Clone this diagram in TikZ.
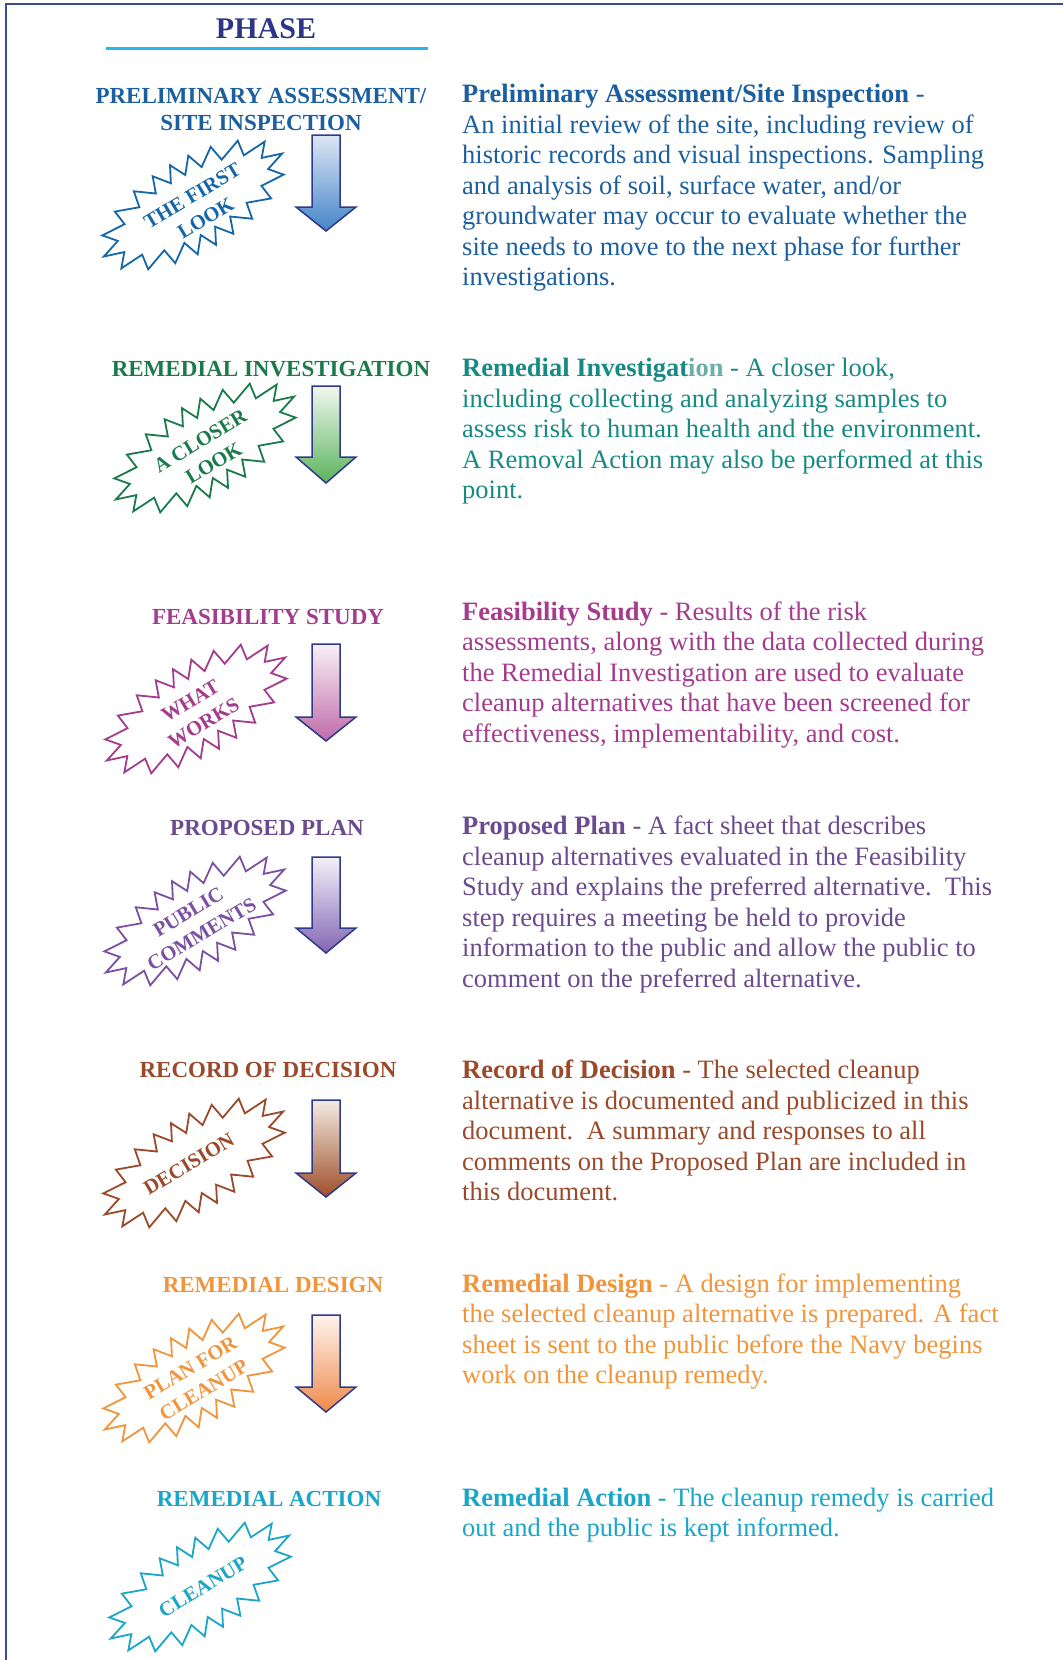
\documentclass[tikz,border=0pt]{standalone}
\usepackage{fontspec}
\setmainfont{Liberation Serif}
\definecolor{frame}{HTML}{3B4A9B}
\definecolor{phase}{HTML}{2E3586}
\definecolor{cyanline}{HTML}{29B6EA}
\definecolor{arrowedge}{HTML}{2E3A8C}
\definecolor{cA}{HTML}{1B5FA0}
\definecolor{cAs}{HTML}{1566A8}
\definecolor{cB}{HTML}{1B7A4C}
\definecolor{cBt}{HTML}{178A84}
\definecolor{cBl}{HTML}{6AAFA9}
\definecolor{cC}{HTML}{A43C8E}
\definecolor{cD}{HTML}{6B4A8F}
\definecolor{cDs}{HTML}{7B50A2}
\definecolor{cE}{HTML}{9A4A2A}
\definecolor{cF}{HTML}{F0953C}
\definecolor{cG}{HTML}{1AA6C8}
\definecolor{aAt}{HTML}{DDE6F5}\definecolor{aAb}{HTML}{4585C8}
\definecolor{aBt}{HTML}{F1F8EF}\definecolor{aBb}{HTML}{5CB35E}
\definecolor{aCt}{HTML}{FAF0F7}\definecolor{aCb}{HTML}{BF6BA8}
\definecolor{aDt}{HTML}{F3F1F9}\definecolor{aDb}{HTML}{8366B4}
\definecolor{aEt}{HTML}{F5EBE3}\definecolor{aEb}{HTML}{9E4F2A}
\definecolor{aFt}{HTML}{FEF4EE}\definecolor{aFb}{HTML}{EF8A4A}
\tikzset{
  heading/.style={font=\fontsize{23}{27}\selectfont\bfseries, anchor=base, inner sep=0pt},
  desc/.style={font=\fontsize{26.5}{30.5}\selectfont, anchor=base west, inner sep=0pt},
  bursttext/.style={font=\fontsize{20.5}{26}\selectfont\bfseries, align=center, rotate=31, inner sep=0pt},
  burstline/.style={line width=1.8pt, line join=miter},
  phasearrow/.style={draw=arrowedge, line width=1.5pt, line join=miter}
}
\newcommand{\burst}[3]{%
  \begin{scope}[shift={(#1,#2)},rotate=30]
    \draw[burstline,#3] plot[variable=\u, samples=41, domain=0:360]
      ({(mod(round(\u/9),2)==0 ? 103 : 85)*cos(\u+11*sin(2*\u))},
       {(mod(round(\u/9),2)==0 ? 46 : 30)*sin(\u+11*sin(2*\u))}) -- cycle;
  \end{scope}}
\newcommand{\phasearrow}[5]{%
  \draw[phasearrow, top color=#4, bottom color=#5]
    (312,#1) -- (340,#1) -- (340,#2) -- (356,#2) -- (326,#3) -- (296,#2) -- (312,#2) -- cycle;}
\newcommand{\desc}[4]{%
  \foreach \l [count=\k] in {#4}
    \node[desc,#2] (#1-\k) at (462,{#3+(\k-1)*30.5}) {\l};}
\begin{document}
\begin{tikzpicture}[x=1pt,y=-1pt]
\useasboundingbox (0,0) rectangle (1063,1660);
% frame
\draw[frame, line width=2.5pt] (6,1660) -- (6,4) -- (1063,4);
% title
\node[font=\fontsize{30}{36}\selectfont\bfseries, text=phase, anchor=base, inner sep=0pt] (phase) at (266,38) {PHASE};
\draw[cyanline, line width=3pt] (106,48) -- (428,48);

% ---------- Row 1
\node[heading, text=cA] (h1a) at (261,103) {PRELIMINARY ASSESSMENT/};
\node[heading, text=cA] (h1b) at (261,130) {SITE INSPECTION};
\burst{193}{205}{cAs}
\node[bursttext, text=cAs] (s1) at (199,207) {THE FIRST\\LOOK};
\phasearrow{135}{207}{231}{aAt}{aAb}
\desc{t1}{text=cA}{102.5}{{\textbf{Preliminary Assessment/Site Inspection} -},{An initial review of the site, including review of},{historic records and visual inspections. Sampling},{and analysis of soil, surface water, and/or},{groundwater may occur to evaluate whether the},{site needs to move to the next phase for further},{investigations.}}

% ---------- Row 2
\node[heading, text=cB] (h2) at (271,376) {REMEDIAL INVESTIGATION};
\burst{205}{448}{cB}
\node[bursttext, text=cB] (s2) at (207,452) {A CLOSER\\LOOK};
\phasearrow{386}{457}{483}{aBt}{aBb}
\desc{t2}{text=cBt}{376.5}{{\textbf{Remedial Investigat{\color{cBl}ion}} - A closer look,},{including collecting and analyzing samples to},{assess risk to human health and the environment.},{A Removal Action may also be performed at this},{point.}}

% ---------- Row 3
\node[heading, text=cC] (h3) at (268,624) {FEASIBILITY STUDY};
\burst{196}{709}{cC}
\node[bursttext, text=cC] (s3) at (197,712) {WHAT\\WORKS};
\phasearrow{644}{717}{741}{aCt}{aCb}
\desc{t3}{text=cC}{620}{{\textbf{Feasibility Study} - Results of the risk},{assessments, along with the data collected during},{the Remedial Investigation are used to evaluate},{cleanup alternatives that have been screened for},{effectiveness, implementability, and cost.}}

% ---------- Row 4
\node[heading, text=cD] (h4) at (267,835) {PROPOSED PLAN};
\burst{195}{921}{cDs}
\node[bursttext, text=cDs] (s4) at (195,923) {PUBLIC\\COMMENTS};
\phasearrow{857}{928}{953}{aDt}{aDb}
\desc{t4}{text=cD}{834.5}{{\textbf{Proposed Plan} - A fact sheet that describes},{cleanup alternatives evaluated in the Feasibility},{Study and explains the preferred alternative.\ \ This},{step requires a meeting be held to provide},{information to the public and allow the public to},{comment on the preferred alternative.}}

% ---------- Row 5
\node[heading, text=cE] (h5) at (268,1077) {RECORD OF DECISION};
\burst{194}{1163}{cE}
\node[bursttext, text=cE] (s5) at (189,1164) {DECISION};
\phasearrow{1100}{1173}{1197}{aEt}{aEb}
\desc{t5}{text=cE}{1078.5}{{\textbf{Record of Decision} - The selected cleanup},{alternative is documented and publicized in this},{document.\ \ A summary and responses to all},{comments on the Proposed Plan are included in},{this document.}}

% ---------- Row 6
\node[heading, text=cF] (h6) at (273,1292) {REMEDIAL DESIGN};
\burst{194}{1378}{cF}
\node[bursttext, text=cF] (s6) at (197,1379) {PLAN FOR\\CLEANUP};
\phasearrow{1315}{1387}{1412}{aFt}{aFb}
\desc{t6}{text=cF}{1292}{{\textbf{Remedial Design} - A design for implementing},{the selected cleanup alternative is prepared. A fact},{sheet is sent to the public before the Navy begins},{work on the cleanup remedy.}}

% ---------- Row 7
\node[heading, text=cG] (h7) at (269,1506) {REMEDIAL ACTION};
\burst{200}{1587}{cG}
\node[bursttext, text=cG] (s7) at (203,1587) {CLEANUP};
\desc{t7}{text=cG}{1506}{{\textbf{Remedial Action} - The cleanup remedy is carried},{out and the public is kept informed.}}
\end{tikzpicture}
\end{document}
